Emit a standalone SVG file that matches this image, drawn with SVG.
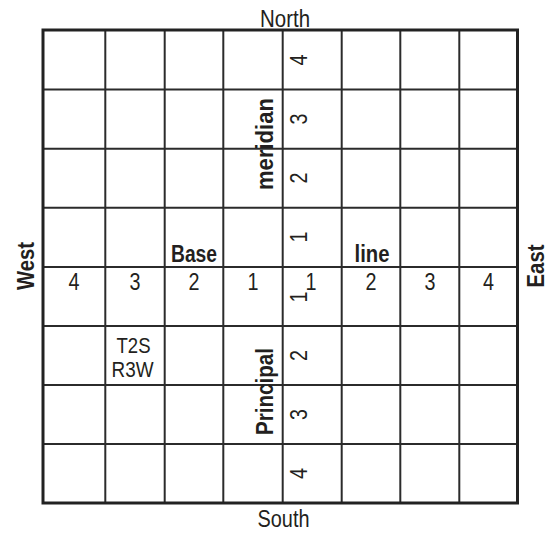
<svg xmlns="http://www.w3.org/2000/svg" width="555" height="533" viewBox="0 0 555 533">
<style>
.t{font-family:"Liberation Sans",Arial,sans-serif;font-size:23.5px;fill:#231f20}
.b{font-weight:bold;font-size:23px}
.m{text-anchor:middle}
.s{font-size:21.5px}
.g{stroke:#2b2b2b;stroke-width:2;fill:none}
</style>
<rect width="555" height="533" fill="#fff"/>
<g id="grid">
<g class="g">
<line x1="105.3" y1="30" x2="105.3" y2="503"/>
<line x1="164.7" y1="30" x2="164.7" y2="503"/>
<line x1="223.3" y1="30" x2="223.3" y2="503"/>
<line x1="282.7" y1="30" x2="282.7" y2="503"/>
<line x1="341.7" y1="30" x2="341.7" y2="503"/>
<line x1="400.3" y1="30" x2="400.3" y2="503"/>
<line x1="459.3" y1="30" x2="459.3" y2="503"/>
<line x1="43" y1="89.5" x2="517.5" y2="89.5"/>
<line x1="43" y1="148.7" x2="517.5" y2="148.7"/>
<line x1="43" y1="207.8" x2="517.5" y2="207.8"/>
<line x1="43" y1="267" x2="517.5" y2="267"/>
<line x1="43" y1="326" x2="517.5" y2="326"/>
<line x1="43" y1="385" x2="517.5" y2="385"/>
<line x1="43" y1="444" x2="517.5" y2="444"/>
</g>
<rect x="43" y="30" width="474.5" height="473" fill="none" stroke="#222" stroke-width="3"/>
</g>
<g id="compass">
<text class="t m" x="285" y="26.5" textLength="50" lengthAdjust="spacingAndGlyphs">North</text>
<text class="t m" x="283.5" y="527" textLength="52" lengthAdjust="spacingAndGlyphs">South</text>
<text class="t m b" transform="translate(34,266) rotate(-90)" textLength="48" lengthAdjust="spacingAndGlyphs">West</text>
<text class="t m b" transform="translate(544,266) rotate(-90)" textLength="43" lengthAdjust="spacingAndGlyphs">East</text>
</g>
<g id="lines-labels">
<text class="t m b" x="194" y="262" textLength="46" lengthAdjust="spacingAndGlyphs">Base</text>
<text class="t m b" x="372" y="262" textLength="35" lengthAdjust="spacingAndGlyphs">line</text>
<text class="t m b" transform="translate(273,144) rotate(-90)" textLength="92" lengthAdjust="spacingAndGlyphs">meridian</text>
<text class="t m b" transform="translate(273,391.5) rotate(-90)" textLength="87" lengthAdjust="spacingAndGlyphs">Principal</text>
</g>
<g id="township">
<text class="t m s" x="133.5" y="352.5" textLength="34" lengthAdjust="spacingAndGlyphs">T2S</text>
<text class="t m s" x="132.5" y="376.5" textLength="42" lengthAdjust="spacingAndGlyphs">R3W</text>
</g>
<g id="ranges">
<text class="t m" x="74" y="289.5" textLength="11" lengthAdjust="spacingAndGlyphs">4</text>
<text class="t m" x="135" y="289.5" textLength="11" lengthAdjust="spacingAndGlyphs">3</text>
<text class="t m" x="194" y="289.5" textLength="11" lengthAdjust="spacingAndGlyphs">2</text>
<text class="t m" x="253" y="289.5" textLength="11" lengthAdjust="spacingAndGlyphs">1</text>
<text class="t m" x="311" y="289.5" textLength="11" lengthAdjust="spacingAndGlyphs">1</text>
<text class="t m" x="371" y="289.5" textLength="11" lengthAdjust="spacingAndGlyphs">2</text>
<text class="t m" x="430" y="289.5" textLength="11" lengthAdjust="spacingAndGlyphs">3</text>
<text class="t m" x="488.5" y="289.5" textLength="11" lengthAdjust="spacingAndGlyphs">4</text>
</g>
<g id="tiers">
<text class="t m" transform="translate(307,60) rotate(-90)" textLength="11" lengthAdjust="spacingAndGlyphs">4</text>
<text class="t m" transform="translate(307,119) rotate(-90)" textLength="11" lengthAdjust="spacingAndGlyphs">3</text>
<text class="t m" transform="translate(307,178) rotate(-90)" textLength="11" lengthAdjust="spacingAndGlyphs">2</text>
<text class="t m" transform="translate(307,237) rotate(-90)" textLength="11" lengthAdjust="spacingAndGlyphs">1</text>
<text class="t m" transform="translate(307,297) rotate(-90)" textLength="11" lengthAdjust="spacingAndGlyphs">1</text>
<text class="t m" transform="translate(307,355.5) rotate(-90)" textLength="11" lengthAdjust="spacingAndGlyphs">2</text>
<text class="t m" transform="translate(307,414.5) rotate(-90)" textLength="11" lengthAdjust="spacingAndGlyphs">3</text>
<text class="t m" transform="translate(307,473.5) rotate(-90)" textLength="11" lengthAdjust="spacingAndGlyphs">4</text>
</g>
</svg>
